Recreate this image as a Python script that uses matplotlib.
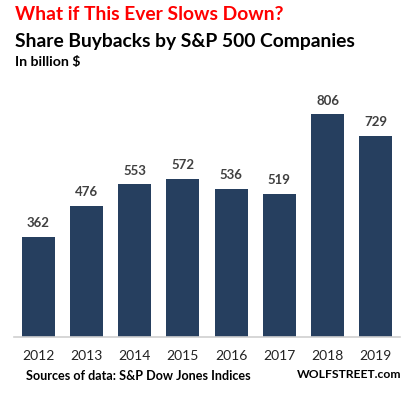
import matplotlib
matplotlib.use("Agg")
import matplotlib.pyplot as plt

years = ["2012", "2013", "2014", "2015", "2016", "2017", "2018", "2019"]
buybacks = [362, 476, 553, 572, 536, 519, 806, 729]

plt.rcParams["font.family"] = ["Lato", "DejaVu Sans"]

fig = plt.figure(figsize=(4.11, 3.95), dpi=100)
W, H = 411, 395
# axes: x 14..400 px, y 100..337 px
ax = fig.add_axes([14 / W, 1 - 337 / H, 386 / W, 237 / H])
x = range(len(years))
ax.bar(x, buybacks, width=0.68, color="#263f5f")
for i, v in zip(x, buybacks):
    ax.text(i, v + 28, str(v), ha="center", va="bottom", fontsize=9.5,
            fontweight="bold", color="#404040")
ax.set_xlim(-0.5, len(years) - 0.5)
ax.set_ylim(0, 858)
ax.set_xticks(list(x))
ax.set_xticklabels(years, fontsize=10, color="#222222")
ax.tick_params(axis="x", length=0, pad=9)
ax.set_yticks([])
for s in ["top", "right", "left"]:
    ax.spines[s].set_visible(False)
ax.spines["bottom"].set_color("#d0d0d0")
ax.spines["bottom"].set_linewidth(1.2)

fig.text(15 / W, 1 - 15 / H, "What if This Ever Slows Down?", color="#ff0000",
         fontsize=13.85, fontweight="bold", ha="left", va="center")
fig.text(15 / W, 1 - 41 / H, "Share Buybacks by S&P 500 Companies", color="#000000",
         fontsize=13.9, fontweight="bold", ha="left", va="center")
fig.text(15 / W, 1 - 62 / H, "In billion $", color="#000000",
         fontsize=10.2, fontweight="bold", ha="left", va="center")
fig.text(26 / W, 1 - 376 / H, "Sources of data: S&P Dow Jones Indices", color="#000000",
         fontsize=9.1, fontweight="bold", ha="left", va="center")
fig.text(401 / W, 1 - 374 / H, "WOLFSTREET.com", color="#000000",
         fontsize=8.7, fontweight="bold", ha="right", va="center")

fig.savefig("out.png", dpi=100)
